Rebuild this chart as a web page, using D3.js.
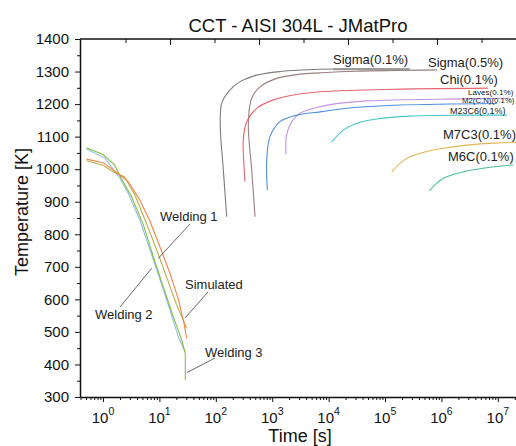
<!DOCTYPE html>
<html>
<head>
<meta charset="utf-8">
<script src="https://cdn.jsdelivr.net/npm/d3@7"></script>
<style>
  html, body { margin: 0; padding: 0; background: #fff; }
  svg { display: block; font-family: "Liberation Sans", Arial, sans-serif; }
</style>
</head>
<body>
<svg id="chart" width="516" height="446"></svg>
<script>
// ---- data (time [s], temperature [K]) ----
const sigma01 = [[156,854],[136,998],[120,1131],[127,1202],[167,1238],[269,1269],[531,1289],[1375,1300],[7040,1307],[277000,1308]];
const sigma05 = [[496,854],[433,998],[377,1141],[433,1218],[608,1253],[1202,1279],[3110,1292],[7040,1296],[30000,1301],[836000,1305]];
const chi01   = [[329,962],[312,1030],[307,1090],[353,1146],[531,1187],[1046,1213],[2366,1228],[7040,1238],[100000,1245],[6.7e6,1249]];
const laves01 = [[1757,1046],[1780,1100],[2218,1146],[3110,1172],[7040,1192],[11970,1200],[47900,1210],[2.1e6,1216],[1.6e7,1218]];
const m2cn01  = [[819,936],[799,1028],[914,1100],[1375,1146],[2720,1166],[7040,1176],[20900,1187],[184000,1197],[9.6e6,1202]];
const m23c601 = [[11350,1084],[18200,1120],[31500,1141],[71200,1154],[277000,1163],[2.14e6,1166],[1.44e7,1166]];
const m7c301  = [[131500,992],[184000,1018],[277000,1038],[718000,1059],[2.81e6,1074],[1.09e7,1081],[2.5e7,1083]];
const m6c01   = [[611000,933],[826000,957],[1.08e6,972],[1.87e6,987],[5.53e6,1003],[1.88e7,1013]];

const welding1  = [[0.51,1031],[1.0,1020],[1.6,995],[2.8,962],[4.5,905],[6.8,840],[10.3,760],[15.4,680],[21.7,600],[27,530],[30.5,480]];
const welding2  = [[0.51,1062],[1.08,1034],[2.0,972],[2.8,926],[4.5,844],[6.8,752],[10.3,660],[15.4,567],[21.7,485],[28.5,439]];
const welding3  = [[0.51,1066],[1.0,1045],[1.6,1013],[2.1,972],[3.2,916],[5.2,829],[7.8,731],[11.7,639],[17.6,547],[24.9,475],[28.5,436],[28.8,432],[28.8,352]];
const simulated = [[0.51,1026],[1.0,1012],[1.6,990],[2.4,977],[3.7,920],[6.0,830],[9.5,740],[14,660],[20,585],[26,540],[30.5,511]];

const xTickExps = [0,1,2,3,4,5,6,7];
const yTicks = [300,400,500,600,700,800,900,1000,1100,1200,1300,1400];
const yMinorTicks = [350,450,550,650,750,850,950,1050,1150,1250,1350];
const topTicks = [1,2,3,4,5,6,7,8,9];

const phases = [
  {name:"Sigma(0.1%)", data:sigma01, color:"#7d7a7a"},
  {name:"Sigma(0.5%)", data:sigma05, color:"#9b7e7e"},
  {name:"Chi(0.1%)",   data:chi01,   color:"#e5646e"},
  {name:"Laves(0.1%)", data:laves01, color:"#c493e0"},
  {name:"M2(C,N)(0.1%)", data:m2cn01, color:"#4f8fdc"},
  {name:"M23C6(0.1%)", data:m23c601, color:"#44c6c9"},
  {name:"M7C3(0.1%)",  data:m7c301,  color:"#e2b556"},
  {name:"M6C(0.1%)",   data:m6c01,   color:"#4cbf98"}
];
const coolings = [
  {name:"Welding 2", data:welding2, color:"#93bbe6"},
  {name:"Welding 3", data:welding3, color:"#7fc241"},
  {name:"Simulated", data:simulated, color:"#b7b04a"},
  {name:"Welding 1", data:welding1, color:"#f2844a"}
];

// ---- layout ----
const svg = d3.select("#chart");
const L = 80, R = 516, T = 39, B = 397;
const x = d3.scaleLog().domain([0.391, 2.1e7]).range([L, R]);
const y = d3.scaleLinear().domain([300, 1400]).range([B, T]);
const xTop = d3.scaleLinear().domain([0, 10]).range([81.5, 526.5]);

svg.append("defs").append("clipPath").attr("id", "clip")
  .append("rect").attr("x", L).attr("y", T).attr("width", R - L).attr("height", B - T);

const phaseLine = d3.line().x(d => x(d[0])).y(d => y(d[1])).curve(d3.curveCatmullRom.alpha(0.5));
const coolLine = d3.line().x(d => x(d[0])).y(d => y(d[1])).curve(d3.curveLinear);

const g = svg.append("g").attr("clip-path", "url(#clip)");
phases.forEach(p => {
  g.append("path").attr("d", phaseLine(p.data))
    .attr("fill", "none").attr("stroke", p.color).attr("stroke-width", 1.1);
});
coolings.forEach(c => {
  g.append("path").attr("d", coolLine(c.data))
    .attr("fill", "none").attr("stroke", c.color).attr("stroke-width", 1.1);
});

// ---- axes ----
const axisColor = "#111";
const yAxis = d3.axisLeft(y).tickValues(yTicks).tickSize(5).tickSizeOuter(0).tickPadding(6)
  .tickFormat(d3.format("d"));
const ya = svg.append("g").attr("transform", `translate(${L},0)`).call(yAxis);
ya.select(".domain").attr("stroke", axisColor).attr("stroke-width", 1.5);
ya.selectAll(".tick line").attr("stroke", axisColor);
ya.selectAll(".tick text").attr("font-size", 15).attr("fill", "#111")
  .attr("font-family", "Liberation Sans, Arial, sans-serif");
const yMinor = svg.append("g").attr("transform", `translate(${L},0)`)
  .call(d3.axisLeft(y).tickValues(yMinorTicks).tickSize(3).tickFormat(""));
yMinor.select(".domain").remove();
yMinor.selectAll(".tick line").attr("stroke", axisColor);

const majorVals = xTickExps.map(k => Math.pow(10, k));
const minorVals = [];
for (let k = -1; k <= 7; k++) for (let m = 2; m <= 9; m++) {
  const v = m * Math.pow(10, k);
  if (v >= 0.391 && v <= 2.1e7) minorVals.push(v);
}
const xa = svg.append("g").attr("transform", `translate(0,${B})`)
  .call(d3.axisBottom(x).tickValues(majorVals).tickSize(5).tickSizeOuter(0).tickFormat(""));
xa.select(".domain").attr("stroke", axisColor).attr("stroke-width", 1.5);
xa.selectAll(".tick line").attr("stroke", axisColor);
const xm = svg.append("g").attr("transform", `translate(0,${B})`)
  .call(d3.axisBottom(x).tickValues(minorVals).tickSize(3).tickFormat(""));
xm.select(".domain").remove();
xm.selectAll(".tick line").attr("stroke", axisColor);

const xl = svg.append("g");
xTickExps.forEach(k => {
  const t = xl.append("text").attr("x", x(Math.pow(10, k))).attr("y", 423)
    .attr("text-anchor", "middle").attr("font-size", 15).attr("fill", "#111");
  t.append("tspan").text("10");
  t.append("tspan").attr("dy", -8).attr("font-size", 10.5).text(k);
});

svg.append("line").attr("x1", L).attr("x2", R).attr("y1", T).attr("y2", T)
  .attr("stroke", axisColor).attr("stroke-width", 1.5);
svg.append("g").selectAll("line").data(topTicks).join("line")
  .attr("x1", d => xTop(d)).attr("x2", d => xTop(d))
  .attr("y1", T).attr("y2", d => T + (d % 2 === 0 ? 6 : 4))
  .attr("stroke", axisColor);

// ---- titles ----
svg.append("text").attr("x", 298).attr("y", 32).attr("text-anchor", "middle")
  .attr("font-size", 18.5).attr("fill", "#111").text("CCT - AISI 304L - JMatPro");
svg.append("text").attr("transform", "translate(28,212) rotate(-90)")
  .attr("text-anchor", "middle").attr("font-size", 18).attr("fill", "#111").text("Temperature [K]");
svg.append("text").attr("x", 300).attr("y", 442).attr("text-anchor", "middle")
  .attr("font-size", 18).attr("fill", "#111").text("Time [s]");

// ---- phase labels ----
const phaseLabels = [
  {text:"Sigma(0.1%)", x:333, y:64, size:13},
  {text:"Sigma(0.5%)", x:428, y:67, size:13},
  {text:"Chi(0.1%)", x:440, y:84, size:13},
  {text:"Laves(0.1%)", x:468, y:94.5, size:8.1},
  {text:"M2(C,N)(0.1%)", x:462, y:103, size:7.8},
  {text:"M23C6(0.1%)", x:450, y:114, size:9},
  {text:"M7C3(0.1%)", x:443, y:139, size:13},
  {text:"M6C(0.1%)", x:448, y:161, size:13}
];
svg.append("g").selectAll("text").data(phaseLabels).join("text")
  .attr("x", d => d.x).attr("y", d => d.y).attr("font-size", d => d.size)
  .attr("fill", "#222").text(d => d.text);
svg.append("line").attr("x1", 333).attr("x2", 409).attr("y1", y(1307)).attr("y2", y(1307))
  .attr("stroke", "#9a9a9a").attr("stroke-width", 1.8);

// ---- cooling annotations ----
const notes = [
  {text:"Welding 1", tx:160, ty:221, x1:190, y1:224, x2:158.3, y2:258.3},
  {text:"Welding 2", tx:95, ty:319, x1:120, y1:307, x2:151.7, y2:268.3},
  {text:"Simulated", tx:185, ty:289, x1:208, y1:292, x2:185, y2:318},
  {text:"Welding 3", tx:205, ty:357, x1:215, y1:358, x2:187, y2:372.5}
];
const ng = svg.append("g");
notes.forEach(n => {
  ng.append("line").attr("x1", n.x1).attr("y1", n.y1).attr("x2", n.x2).attr("y2", n.y2)
    .attr("stroke", "#444").attr("stroke-width", 0.8);
  ng.append("text").attr("x", n.tx).attr("y", n.ty).attr("font-size", 13).attr("fill", "#222").text(n.text);
});
</script>
</body>
</html>
